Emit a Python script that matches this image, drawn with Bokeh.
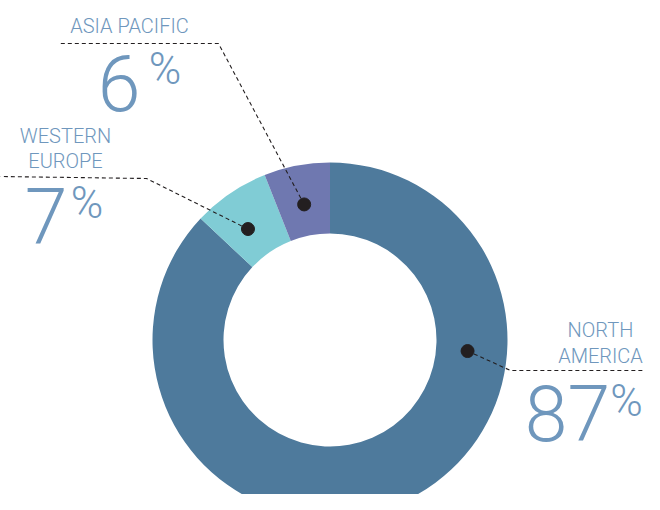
import numpy as np
from bokeh.plotting import figure
from bokeh.models import Range1d
from bokeh.core.properties import value
from bokeh.embed import file_html
from bokeh.resources import INLINE

# ---- data ----
regions = ["NORTH AMERICA", "WESTERN EUROPE", "ASIA PACIFIC"]
shares = [87, 7, 6]
colors = ["#4e7a9c", "#80ccd5", "#6f78b0"]
label_lines = [["NORTH", "AMERICA"], ["WESTERN", "EUROPE"], ["ASIA PACIFIC"]]

# ---- layout (screen px of the 660x510 picture; y converted below) ----
W, H = 644, 494
FONT = value("Roboto Light, Roboto, Liberation Sans, sans-serif")
TXT = "#6f97bd"
INK = "#231f20"
NAME_SIZE, NUM_SIZE, PCT_SIZE = 20, 77, 44
# baseline correction (px) observed for the renderer at each size
NAME_DY, NUM_DY, PCT_DY = 8, 28, 15


def Y(sy):
    return 510 - sy


cx, cy = 329.5, Y(339.5)
r_out, r_in, r_dot = 177.5, 106.5, 138
anchor_frac = [0.302, 0.41, 0.5]          # where the dot sits inside each slice
elbows = [(510, 370), (146, 178), (218, 43)]
line_ends = [(668, 370), (0, 176), (60, 43)]
name_pos = [(600, 337, 26), (65, 143, 25), (129, 33, 0)]   # centre x, first baseline, line step
num_pos = [(567, 440), (45.5, 243), (118.5, 110)]
pct_pos = [(626, 415), (86.5, 217), (164.5, 83)]

p = figure(width=W, height=H, x_range=Range1d(0, W), y_range=Range1d(510 - H, 510),
           output_backend="svg", toolbar_location=None, min_border=0)
p.axis.visible = False
p.grid.visible = False
p.outline_line_color = None
p.background_fill_color = "white"
p.border_fill_color = "white"

total = float(sum(shares))
cum = np.concatenate([[0], np.cumsum(shares)]) / total * 2 * np.pi
starts = np.pi / 2 - cum[:-1]
ends = np.pi / 2 - cum[1:]

p.annular_wedge(x=[cx] * 3, y=[cy] * 3, inner_radius=r_in, outer_radius=r_out,
                start_angle=list(starts), end_angle=list(ends), direction="clock",
                fill_color=colors, line_color=None)

for i in range(3):
    a = np.pi / 2 - (cum[i] + anchor_frac[i] * (cum[i + 1] - cum[i]))
    dx, dy = cx + r_dot * np.cos(a), cy + r_dot * np.sin(a)
    ex, ey = elbows[i]
    lx, ly = line_ends[i]
    p.line([dx, ex, lx], [dy, Y(ey), Y(ly)], line_color=INK, line_width=1.1,
           line_dash="4 3")
    p.scatter([dx], [dy], size=13, fill_color=INK, line_color=INK)

    nx, nb, step = name_pos[i]
    for k, t in enumerate(label_lines[i]):
        p.text([nx], [Y(nb + k * step - NAME_DY)], text=[t], text_font=FONT,
               text_font_size=f"{NAME_SIZE}px", text_color=TXT, text_align="center",
               text_baseline="alphabetic")
    ux, uy = num_pos[i]
    p.text([ux], [Y(uy - NUM_DY)], text=[str(shares[i])], text_font=FONT,
           text_font_size=f"{NUM_SIZE}px", text_color=TXT, text_align="center",
           text_baseline="alphabetic")
    qx, qy = pct_pos[i]
    p.text([qx], [Y(qy - PCT_DY)], text=["%"], text_font=FONT,
           text_font_size=f"{PCT_SIZE}px", text_color=TXT, text_align="center",
           text_baseline="alphabetic")

open("out.html", "w").write(file_html(p, INLINE))
